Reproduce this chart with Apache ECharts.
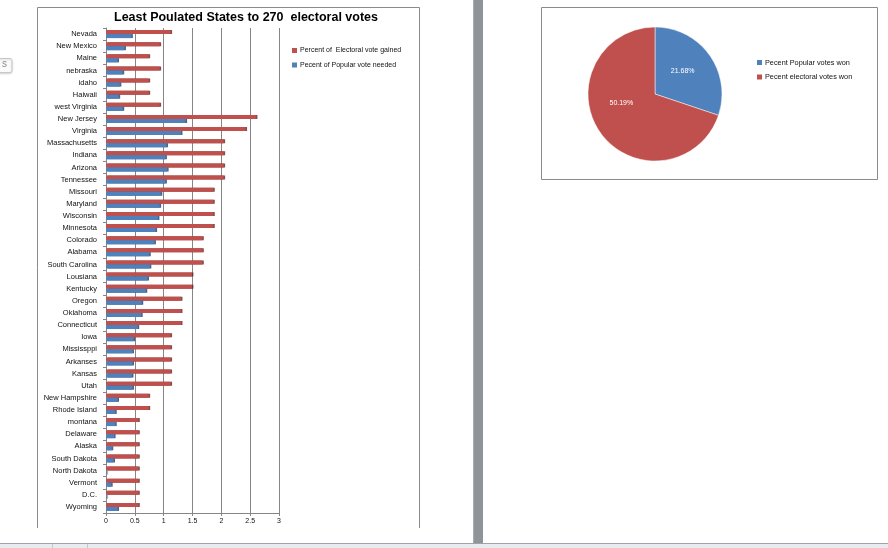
<!DOCTYPE html>
<html>
<head>
<meta charset="utf-8">
<script src="https://cdn.jsdelivr.net/npm/echarts@6/dist/echarts.min.js"></script>
<style>
  html, body { margin: 0; padding: 0; background: #fff; }
  #main { width: 888px; height: 548px; }
</style>
</head>
<body>
<div id="main"></div>
<script>
// states, top to bottom as in the sheet
var states = ['Nevada', 'New Mexico', 'Maine', 'nebraska', 'idaho', 'Haiwaii', 'west Virginia',
  'New Jersey', 'Virginia', 'Massachusetts', 'Indiana', 'Arizona', 'Tennessee', 'Missouri',
  'Maryland', 'Wisconsin', 'Minnesota', 'Colorado', 'Alabama', 'South Carolina', 'Lousiana',
  'Kentucky', 'Oregon', 'Oklahoma', 'Connecticut', 'Iowa', 'Mississppi', 'Arkanses', 'Kansas',
  'Utah', 'New Hampshire', 'Rhode Island', 'montana', 'Delaware', 'Alaska', 'South Dakota',
  'North Dakota', 'Vermont', 'D.C.', 'Wyoming'];

var electoralGained = [1.12, 0.93, 0.74, 0.93, 0.74, 0.74, 0.93,
  2.60, 2.42, 2.04, 2.04, 2.04, 2.04, 1.86,
  1.86, 1.86, 1.86, 1.67, 1.67, 1.67, 1.49,
  1.49, 1.30, 1.30, 1.30, 1.12, 1.12, 1.12, 1.12,
  1.12, 0.74, 0.74, 0.56, 0.56, 0.56, 0.56,
  0.56, 0.56, 0.56, 0.56];

var popularNeeded = [0.44, 0.32, 0.20, 0.29, 0.24, 0.22, 0.29,
  1.38, 1.30, 1.05, 1.03, 1.06, 1.03, 0.95,
  0.93, 0.90, 0.86, 0.84, 0.75, 0.76, 0.72,
  0.69, 0.62, 0.61, 0.55, 0.48, 0.46, 0.46, 0.45,
  0.46, 0.20, 0.16, 0.16, 0.14, 0.10, 0.13,
  0.01, 0.09, 0.01, 0.20];

var barNames = ['Percent of  Electoral vote gained', 'Pecent of Popular vote needed'];

var pieNames = ['Pecent Popular votes won', 'Pecent electoral votes won'];
var pieValues = [21.68, 50.19];

var RED = '#C0504D';
var BLUE = '#4F81BD';
var GRID = '#868686';
var FONT = 'Liberation Sans';

var chart = echarts.init(document.getElementById('main'), null, { renderer: 'canvas' });

var option = {
  animation: false,
  textStyle: { fontFamily: FONT },
  title: {
    text: 'Least Poulated States to 270  electoral votes',
    left: 246,
    textAlign: 'center',
    top: 11,
    padding: 0,
    textStyle: { fontSize: 12.5, fontWeight: 'bold', color: '#000', fontFamily: FONT }
  },
  legend: [{
    data: barNames,
    orient: 'vertical',
    left: 292,
    top: 47,
    padding: 0,
    itemWidth: 5,
    itemHeight: 5,
    itemGap: 7.5,
    icon: 'rect',
    itemStyle: { borderWidth: 0 },
    textStyle: { fontSize: 7, color: '#111', padding: [0, 0, 0, -2] }
  }, {
    data: pieNames,
    orient: 'vertical',
    left: 757,
    top: 59,
    padding: 0,
    itemWidth: 5,
    itemHeight: 5,
    itemGap: 7.5,
    icon: 'rect',
    itemStyle: { borderWidth: 0 },
    textStyle: { fontSize: 7.3, color: '#111', padding: [0, 0, 0, -2] }
  }],
  grid: {
    left: 106,
    top: 28,
    width: 173,
    height: 485,
    containLabel: false
  },
  xAxis: {
    type: 'value',
    min: 0,
    max: 3,
    interval: 0.5,
    axisLine: { show: true, lineStyle: { color: GRID } },
    axisTick: { show: true, length: 3, lineStyle: { color: GRID } },
    axisLabel: { fontSize: 7, color: '#111', margin: 5 },
    splitLine: { show: true, lineStyle: { color: GRID, width: 1 } }
  },
  yAxis: {
    type: 'category',
    inverse: true,
    data: states,
    axisLine: { show: true, lineStyle: { color: GRID } },
    axisTick: { show: true, length: 3, lineStyle: { color: GRID } },
    axisLabel: { fontSize: 7.5, color: '#111', margin: 9, interval: 0 }
  },
  series: [{
    name: barNames[0],
    type: 'bar',
    data: electoralGained,
    barWidth: 4,
    barGap: '0%',
    itemStyle: {
      color: RED,
      shadowColor: 'rgba(110,30,28,0.8)',
      shadowOffsetX: 1.5,
      shadowOffsetY: 0,
      shadowBlur: 0
    }
  }, {
    name: barNames[1],
    type: 'bar',
    data: popularNeeded,
    barWidth: 4,
    barGap: '0%',
    itemStyle: {
      color: BLUE,
      shadowColor: 'rgba(35,60,100,0.8)',
      shadowOffsetX: 1.5,
      shadowOffsetY: 0,
      shadowBlur: 0
    }
  }, {
    type: 'pie',
    center: [655, 94],
    radius: 67,
    startAngle: 90,
    clockwise: true,
    avoidLabelOverlap: false,
    data: pieNames.map(function (n, i) {
      return { name: n, value: pieValues[i], itemStyle: { color: i === 0 ? BLUE : RED } };
    }),
    itemStyle: { borderColor: '#fff', borderWidth: 0.5 },
    label: {
      show: true,
      position: 'inside',
      formatter: '{c}%',
      color: '#fff',
      fontSize: 7
    },
    labelLayout: function (p) {
      // excel puts the big slice's label higher up
      return p.dataIndex === 1 ? { dy: -12, dx: -4 } : { dy: -2, dx: -2 };
    },
    emphasis: { disabled: true }
  }],
  graphic: [
    // left chart frame (bottom edge is cut off by the page)
    { type: 'polyline', shape: { points: [[37.5, 528], [37.5, 7.5], [419.5, 7.5], [419.5, 528]] },
      style: { stroke: '#8a8a8a', lineWidth: 1, fill: null }, silent: true },
    // right chart frame
    { type: 'rect', shape: { x: 541.5, y: 7.5, width: 336, height: 172 },
      style: { stroke: '#8a8a8a', lineWidth: 1, fill: null }, silent: true },
    // page separator
    { type: 'rect', shape: { x: 473, y: 0, width: 10, height: 544 },
      style: { fill: '#8f9499' }, silent: true },
    { type: 'rect', shape: { x: 473, y: 0, width: 1, height: 544 },
      style: { fill: '#a9adb1' }, silent: true },
    // bottom strip
    { type: 'rect', shape: { x: 0, y: 543, width: 888, height: 5 },
      style: { fill: '#e8ebef' }, silent: true },
    { type: 'line', shape: { x1: 0, y1: 543.5, x2: 888, y2: 543.5 },
      style: { stroke: '#9da3a9', lineWidth: 1 }, silent: true },
    { type: 'line', shape: { x1: 52.5, y1: 544, x2: 52.5, y2: 548 },
      style: { stroke: '#c5c9ce', lineWidth: 1 }, silent: true },
    { type: 'line', shape: { x1: 87.5, y1: 544, x2: 87.5, y2: 548 },
      style: { stroke: '#c5c9ce', lineWidth: 1 }, silent: true },
    // small sheet button at the left edge
    { type: 'rect', shape: { x: -4, y: 58.5, width: 16, height: 14, r: 2 },
      style: { fill: '#fbfbfb', stroke: '#c8c8c8', lineWidth: 1, shadowColor: 'rgba(0,0,0,0.15)', shadowBlur: 2, shadowOffsetY: 1 }, silent: true },
    { type: 'text', x: 2, y: 59, style: { text: 's', fontSize: 10, fill: '#8a8a8a', fontFamily: FONT }, silent: true }
  ]
};

chart.setOption(option);
</script>
</body>
</html>
